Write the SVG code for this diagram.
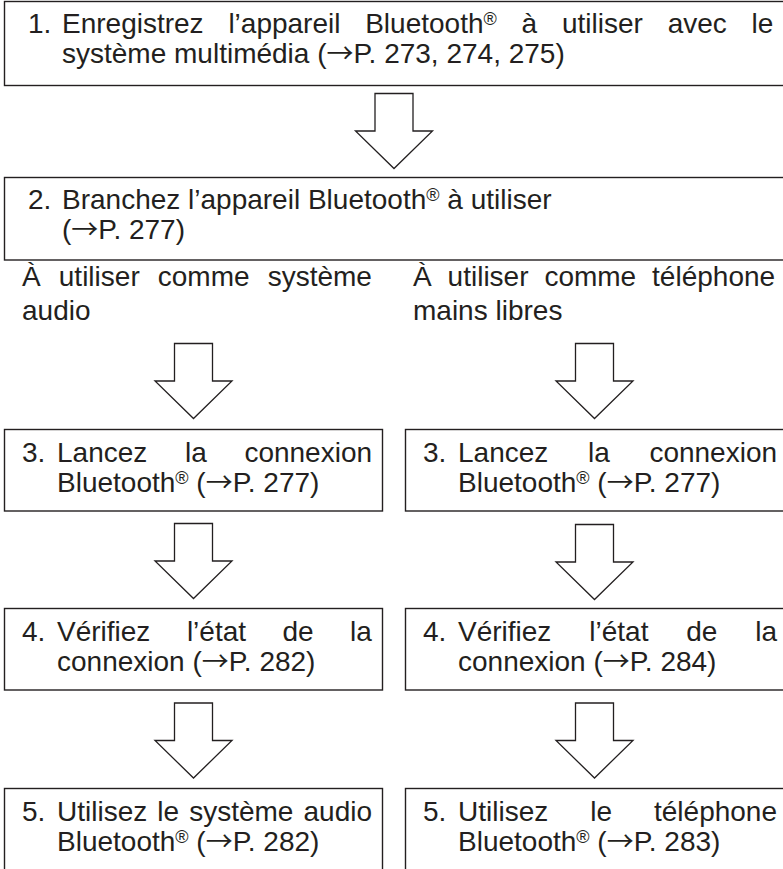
<svg xmlns="http://www.w3.org/2000/svg" xmlns:xlink="http://www.w3.org/1999/xlink" width="783" height="869" viewBox="0 0 783 869">
<style>
text{font-family:"Liberation Sans",Arial,sans-serif;font-size:28px;fill:#231f20}
.r{font-size:18px}
.a{font-family:"Noto Sans CJK JP","DejaVu Sans",sans-serif;font-size:27px}
.box{fill:#fff;stroke:#231f20;stroke-width:1.4}
.arr{fill:#fff;stroke:#231f20;stroke-width:1.3;stroke-linejoin:miter}
</style>
<defs>
<path id="arrow" class="arr" d="M-19,0 H19 V37.5 H38.5 L0,75 L-38.5,37.5 H-19 Z"/>
</defs>
<rect width="783" height="869" fill="#fff"/>

<g id="connectors">
<use xlink:href="#arrow" href="#arrow" transform="translate(394,93.5)"/>
<use xlink:href="#arrow" href="#arrow" transform="translate(193.5,343.5)"/>
<use xlink:href="#arrow" href="#arrow" transform="translate(594.5,343.5)"/>
<use xlink:href="#arrow" href="#arrow" transform="translate(193.5,523.5)"/>
<use xlink:href="#arrow" href="#arrow" transform="translate(594.5,524.5)"/>
<use xlink:href="#arrow" href="#arrow" transform="translate(193.5,703)"/>
<use xlink:href="#arrow" href="#arrow" transform="translate(594.5,703)"/>
</g>

<g id="step1">
<rect class="box" x="4.5" y="1.5" width="800" height="84"/>
<text y="33"><tspan x="28">1.</tspan><tspan x="62">Enregistrez</tspan><tspan x="228.4">l’appareil</tspan><tspan x="365.2">Bluetooth</tspan><tspan class="r" dy="-8">®</tspan><tspan x="521.6" dy="8">à</tspan><tspan x="562">utiliser</tspan><tspan x="667.7">avec</tspan><tspan x="751.6">le</tspan></text>
<text x="62" y="63">système multimédia (<tspan class="a">→</tspan>P. 273, 274, 275)</text>
</g>

<g id="step2">
<rect class="box" x="4.5" y="177.5" width="800" height="82.5"/>
<text y="208.5"><tspan x="28">2.</tspan><tspan x="62">Branchez l’appareil Bluetooth</tspan><tspan class="r" dy="-8">®</tspan><tspan dy="8"> à utiliser</tspan></text>
<text x="62" y="238.5">(<tspan class="a">→</tspan>P. 277)</text>
</g>

<g id="label-audio">
<text y="286"><tspan x="22">À</tspan><tspan x="58.8">utiliser</tspan><tspan x="157.8">comme</tspan><tspan x="267.7">système</tspan></text>
<text x="22" y="320">audio</text>
</g>

<g id="label-phone">
<text y="286"><tspan x="413">À</tspan><tspan x="447.6">utiliser</tspan><tspan x="544.4">comme</tspan><tspan x="652.1">téléphone</tspan></text>
<text x="413" y="320">mains libres</text>
</g>

<g id="step3-audio">
<rect class="box" x="4.5" y="429.5" width="378" height="81.5"/>
<text y="461.5"><tspan x="22">3.</tspan><tspan x="57">Lancez</tspan><tspan x="185">la</tspan><tspan x="244.4">connexion</tspan></text>
<text x="57" y="491.5">Bluetooth<tspan class="r" dy="-8">®</tspan><tspan dy="8"> (</tspan><tspan class="a">→</tspan>P. 277)</text>
</g>

<g id="step3-phone">
<rect class="box" x="405.5" y="429.5" width="400" height="81.5"/>
<text y="461.5"><tspan x="423">3.</tspan><tspan x="458">Lancez</tspan><tspan x="588">la</tspan><tspan x="649.4">connexion</tspan></text>
<text x="458" y="491.5">Bluetooth<tspan class="r" dy="-8">®</tspan><tspan dy="8"> (</tspan><tspan class="a">→</tspan>P. 277)</text>
</g>

<g id="step4-audio">
<rect class="box" x="4.5" y="608.5" width="378" height="81.5"/>
<text y="640.5"><tspan x="22">4.</tspan><tspan x="57">Vérifiez</tspan><tspan x="186.9">l’état</tspan><tspan x="282.5">de</tspan><tspan x="350.1">la</tspan></text>
<text x="57" y="670.5">connexion (<tspan class="a">→</tspan>P. 282)</text>
</g>

<g id="step4-phone">
<rect class="box" x="405.5" y="608.5" width="400" height="81.5"/>
<text y="640.5"><tspan x="423">4.</tspan><tspan x="458">Vérifiez</tspan><tspan x="589.3">l’état</tspan><tspan x="686.3">de</tspan><tspan x="755.3">la</tspan></text>
<text x="458" y="670.5">connexion (<tspan class="a">→</tspan>P. 284)</text>
</g>

<g id="step5-audio">
<rect class="box" x="4.5" y="788.5" width="378" height="100"/>
<text y="820.5"><tspan x="22">5.</tspan><tspan x="57">Utilisez</tspan><tspan x="157.3">le</tspan><tspan x="189.2">système</tspan><tspan x="303.5">audio</tspan></text>
<text x="57" y="850.5">Bluetooth<tspan class="r" dy="-8">®</tspan><tspan dy="8"> (</tspan><tspan class="a">→</tspan>P. 282)</text>
</g>

<g id="step5-phone">
<rect class="box" x="405.5" y="788.5" width="400" height="100"/>
<text y="820.5"><tspan x="423">5.</tspan><tspan x="458">Utilisez</tspan><tspan x="590.2">le</tspan><tspan x="654">téléphone</tspan></text>
<text x="458" y="850.5">Bluetooth<tspan class="r" dy="-8">®</tspan><tspan dy="8"> (</tspan><tspan class="a">→</tspan>P. 283)</text>
</g>
</svg>
